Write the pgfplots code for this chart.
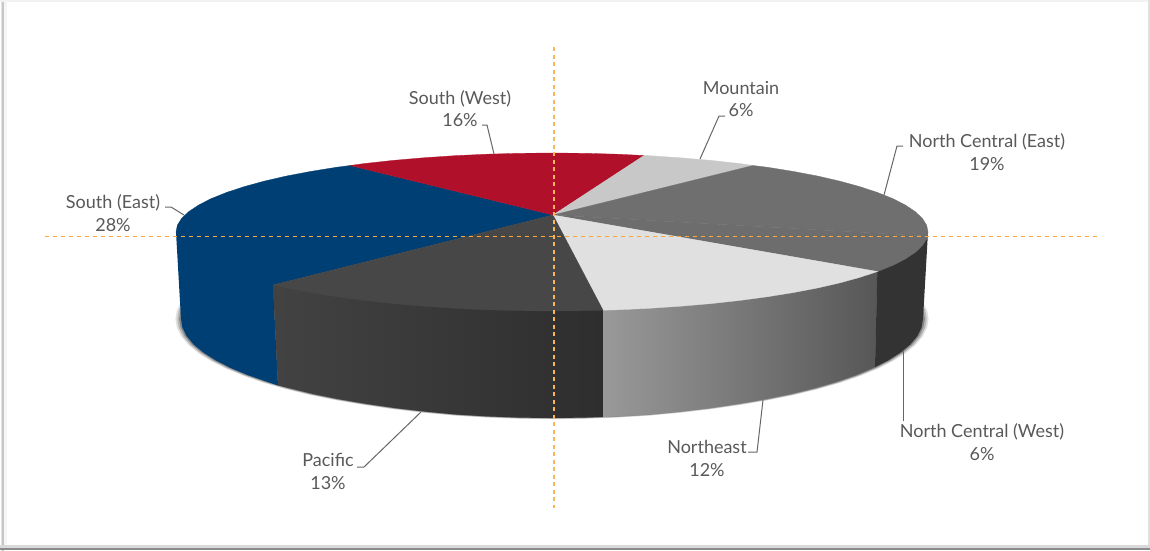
\documentclass[border=0pt]{standalone}
\usepackage{pgfplots}
\pgfplotsset{compat=1.18}
\usepackage{pgfplotstable}
\usepackage{fontspec}
\setmainfont{Lato}
\definecolor{cblue}{HTML}{003F73}
\definecolor{cred}{HTML}{B1102B}
\definecolor{cmount}{HTML}{C8C8C8}
\definecolor{cnce}{HTML}{6F6F6F}
\definecolor{cncwtop}{HTML}{6D6D6D}
\definecolor{cncwside}{HTML}{333333}
\definecolor{cnetop}{HTML}{E0E0E0}
\definecolor{cpactop}{HTML}{474747}
\definecolor{corange}{HTML}{F9A93A}
\definecolor{corangev}{HTML}{F8B55C}
\definecolor{clead}{HTML}{666666}
\definecolor{ctext}{HTML}{595959}
\pgfplotstableread{
x y
923 319
921.6 327.5
917.4 336
910.4 344.4
900.6 352.5
888.2 360.4
873.3 368
855.9 375.2
836.2 382
814.3 388.3
790.5 394.1
764.8 399.3
737.5 403.9
708.8 408.1
678.9 411.6
648 414.5
616.4 416.4
584.4 417.6
552 418
519.6 417.6
487.6 416.4
456 414.5
425.1 411.6
395.2 408.1
366.5 403.9
339.2 399.3
313.5 394.1
289.7 388.3
267.8 382
248.1 375.2
230.7 368
215.8 360.4
203.4 352.5
193.6 344.4
186.6 336
182.4 327.5
181 319
182.4 310.5
186.6 302
552 250
917.4 302
921.6 310.5
}\bottomarc
\begin{document}
\begin{tikzpicture}
\begin{axis}[scale only axis,width=1150pt,height=550pt,xmin=0,xmax=1150,ymin=0,ymax=550,y dir=reverse,hide axis,clip=false]
% frame
\addplot[draw=none,fill=white] coordinates {(0,0)(1150,0)(1150,550)(0,550)} -- cycle;
\addplot[draw=none,left color=white,right color=black!22,middle color=black!22] coordinates {(0,0)(4,0)(4,550)(0,550)} -- cycle;
\addplot[draw=none,fill=black!4] coordinates {(4,0)(7,0)(7,550)(4,550)} -- cycle;
\addplot[draw=none,fill=black!5] coordinates {(0,0)(1150,0)(1150,1.5)(0,1.5)} -- cycle;
\addplot[draw=none,fill=black!12] coordinates {(1147.5,0)(1150,0)(1150,550)(1147.5,550)} -- cycle;
\addplot[draw=none,fill=black!15] coordinates {(0,544.5)(1150,544.5)(1150,547.5)(0,547.5)} -- cycle;
\addplot[draw=none,fill=black!45] coordinates {(0,547.5)(1150,547.5)(1150,550)(0,550)} -- cycle;
% shadow
\addplot[draw=none,fill=black,opacity=.12] table[x expr=552+(\thisrow{x}-552)*1.015,y expr=319+(\thisrow{y}-319)*1.012] {\bottomarc} -- cycle;
\addplot[draw=none,fill=black,opacity=.18] table[x expr=552+(\thisrow{x}-552)*1.010,y expr=319+(\thisrow{y}-319)*1.008] {\bottomarc} -- cycle;
\addplot[draw=none,fill=black,opacity=.25] table[x expr=552+(\thisrow{x}-552)*1.005,y expr=319+(\thisrow{y}-319)*1.004] {\bottomarc} -- cycle;
% side walls
\addplot[draw=none,fill=cblue] coordinates {(176,232)(273,270)(273,285)(278,385.5)(267.8,382)(248.1,375.2)(230.7,368)(215.8,360.4)(203.4,352.5)(193.6,344.4)(186.6,336)(182.4,327.5)(181,319)} -- cycle;
\addplot[draw=none,left color=black!74,right color=black!82] coordinates {(273,285)(603,300)(603,416.9)(584.4,417.6)(552,418)(519.6,417.6)(487.6,416.4)(456,414.5)(425.1,411.6)(395.2,408.1)(366.5,403.9)(339.2,399.3)(313.5,394.1)(289.7,388.3)(278,385.5)} -- cycle;
\addplot[draw=none,left color=black!40,right color=black!66] coordinates {(603,300)(877.6,262)(875,367.2)(855.9,375.2)(836.2,382)(814.3,388.3)(790.5,394.1)(764.8,399.3)(737.5,403.9)(708.8,408.1)(678.9,411.6)(648,414.5)(616.4,416.4)(603,416.9)} -- cycle;
\addplot[draw=none,fill=cncwside] coordinates {(877.6,262)(928,232)(923,319)(921.6,327.5)(917.4,336)(910.4,344.4)(900.6,352.5)(888.2,360.4)(875,367.2)} -- cycle;
% top faces
\addplot[draw=cblue,line width=.3pt,fill=cblue] coordinates {(553,215)(273,285)(264,282.8)(244,277.3)(226.4,271.5)(211.2,265.4)(198.7,259)(188.8,252.4)(181.7,245.7)(177.4,238.9)(176,232)(177.4,225.1)(181.7,218.3)(188.8,211.6)(198.7,205)(211.2,198.6)(226.4,192.5)(244,186.7)(264,181.2)(286.1,176.1)(310.3,171.5)(336.3,167.3)(350,165.5)} -- cycle;
\addplot[draw=cred,line width=.3pt,fill=cred] coordinates {(553,215)(350,165.5)(364,163.6)(393.1,160.4)(423.4,157.8)(454.7,155.7)(486.7,154.2)(519.2,153.3)(552,153)(584.8,153.3)(617.3,154.2)(644,155.5)} -- cycle;
\addplot[draw=cmount,line width=.3pt,fill=cmount] coordinates {(553,215)(644,155.5)(649.3,155.7)(680.6,157.8)(710.9,160.4)(740,163.6)(753,165.5)} -- cycle;
\addplot[draw=cnce,line width=.3pt,fill=cnce] coordinates {(553,215)(753,165.5)(767.7,167.3)(793.7,171.5)(817.9,176.1)(840,181.2)(860,186.7)(877.6,192.5)(892.8,198.6)(905.3,205)(915.2,211.6)(922.3,218.3)(926.6,225.1)(928,232)(927.6,236)} -- cycle;
\addplot[draw=cncwtop,line width=.3pt,fill=cncwtop] coordinates {(553,215)(927.6,236)(926.6,238.9)(922.3,245.7)(915.2,252.4)(905.3,259)(892.8,265.4)(877.6,271.5)} -- cycle;
\addplot[draw=cnetop,line width=.3pt,fill=cnetop] coordinates {(553,215)(877.6,271.5)(860,277.3)(840,282.8)(817.9,287.9)(793.7,292.5)(767.7,296.7)(740,300.4)(710.9,303.6)(680.6,306.2)(649.3,308.3)(617.3,309.8)(603,310.2)} -- cycle;
\addplot[draw=cpactop,line width=.3pt,fill=cpactop] coordinates {(553,215)(603,310.2)(584.8,310.7)(552,311)(519.2,310.7)(486.7,309.8)(454.7,308.3)(423.4,306.2)(393.1,303.6)(364,300.4)(336.3,296.7)(310.3,292.5)(286.1,287.9)(273,285)} -- cycle;
% leader lines
\addplot[clead,line width=1pt] coordinates {(165,207)(171,207)(184,215)};
\addplot[clead,line width=1pt] coordinates {(482,125)(487,125)(494,154)};
\addplot[clead,line width=1pt] coordinates {(725,116)(719,116)(700,159)};
\addplot[clead,line width=1pt] coordinates {(903,146)(897,146)(884,195)};
\addplot[clead,line width=1pt] coordinates {(903,350)(903,421)};
\addplot[clead,line width=1pt] coordinates {(748,452)(757,452)(763,400)};
\addplot[clead,line width=1pt] coordinates {(357,467)(364,467)(421,412)};
% guide lines
\addplot[corange,line width=1.5pt,dash pattern=on 4pt off 4pt] coordinates {(45,236.5)(1100,236.5)};
\addplot[corangev,line width=2pt,dash pattern=on 4pt off 3.5pt] coordinates {(554,47)(554,508)};
% labels
\tikzset{lab/.style={align=center,inner sep=0pt,text=ctext,font=\fontsize{18}{22.5}\selectfont}}
\node[lab] at (axis cs:113,213) {South (East)\\28\%};
\node[lab] at (axis cs:460,108.5) {South (West)\\16\%};
\node[lab] at (axis cs:741,99) {Mountain\\6\%};
\node[lab] at (axis cs:987,152) {North Central (East)\\19\%};
\node[lab] at (axis cs:982,442) {North Central (West)\\6\%};
\node[lab] at (axis cs:707,458.5) {Northeast\\12\%};
\node[lab] at (axis cs:328,471.5) {Pacific\\13\%};
\end{axis}
\end{tikzpicture}
\end{document}
